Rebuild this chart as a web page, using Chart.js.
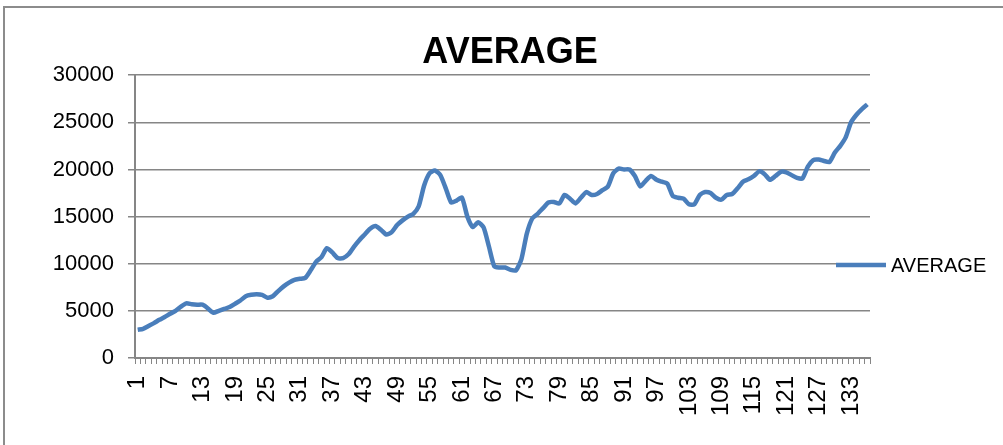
<!DOCTYPE html>
<html>
<head>
<meta charset="utf-8">
<script src="https://cdn.jsdelivr.net/npm/chart.js@4"></script>
<style>
  body { margin: 0; background: #fff; }
  canvas { display: block; }
</style>
</head>
<body>
<canvas id="chart" width="1003" height="445"></canvas>
<script>
// Values (136 periods)
const averages = [
  3000, 3100, 3400, 3700, 4050, 4350, 4700, 5000, 5450, 5800,
  5700, 5650, 5650, 5250, 4800, 5000, 5200, 5400, 5750, 6100,
  6550, 6700, 6750, 6700, 6400, 6550, 7100, 7600, 8000, 8300,
  8400, 8500, 9300, 10200, 10700, 11650, 11200, 10600, 10600, 11000,
  11800, 12500, 13100, 13700, 14000, 13600, 13100, 13350, 14100, 14600,
  15000, 15300, 16100, 18300, 19600, 19900, 19400, 18000, 16500, 16700,
  17000, 15000, 13900, 14400, 13850, 11800, 9700, 9600, 9600, 9350,
  9300, 10500, 13200, 14800, 15300, 15900, 16500, 16550, 16400, 17300,
  16900, 16400, 17000, 17600, 17300, 17400, 17800, 18200, 19600, 20100,
  20000, 20000, 19300, 18200, 18800, 19300, 18900, 18700, 18500, 17200,
  17000, 16900, 16300, 16300, 17300, 17600, 17500, 17000, 16800, 17300,
  17400, 18000, 18700, 18950, 19300, 19800, 19500, 18900, 19300, 19750,
  19700, 19400, 19100, 19050, 20300, 21000, 21050, 20900, 20800, 21800,
  22500, 23400, 25000, 25800, 26400, 26900
];
const periods = averages.map((v, i) => String(i + 1));
const seriesName = 'AVERAGE';
const labelEvery = 6;

const axisGray = '#868686';
const lineBlue = '#4a7ebb';

// Outer chart frame (only top and left edges are visible in the crop)
const framePlugin = {
  id: 'frame',
  beforeDraw(chart) {
    const { ctx } = chart;
    ctx.save();
    ctx.strokeStyle = '#8c8c8c';
    ctx.lineWidth = 2;
    ctx.beginPath();
    ctx.moveTo(4, chart.height);
    ctx.lineTo(4, 7);
    ctx.lineTo(chart.width, 7);
    ctx.stroke();
    ctx.restore();
  }
};

// Excel-style legend that sits over the right edge of the plot
const sideLegend = {
  id: 'sideLegend',
  afterDraw(chart) {
    const { ctx } = chart;
    const ds = chart.data.datasets[0];
    const x = chart.chartArea.right - 34;
    const y = 265;
    ctx.save();
    ctx.strokeStyle = ds.borderColor;
    ctx.lineWidth = ds.borderWidth;
    ctx.beginPath();
    ctx.moveTo(x, y);
    ctx.lineTo(x + 50, y);
    ctx.stroke();
    ctx.fillStyle = '#000';
    ctx.font = '20px "Liberation Sans"';
    ctx.textBaseline = 'middle';
    ctx.fillText(ds.label, x + 55, y + 1);
    ctx.restore();
  }
};

new Chart(document.getElementById('chart'), {
  type: 'line',
  data: {
    labels: periods,
    datasets: [{
      label: seriesName,
      data: averages,
      borderColor: lineBlue,
      backgroundColor: lineBlue,
      borderWidth: 4.5,
      pointRadius: 0,
      tension: 0.2,
      fill: false
    }]
  },
  options: {
    responsive: false,
    animation: false,
    layout: { padding: { left: 17, top: 0, right: 0, bottom: 0 } },
    plugins: {
      legend: { display: false },
      tooltip: { enabled: false },
      title: {
        display: true,
        text: seriesName,
        color: '#000',
        font: { family: 'Liberation Sans', size: 36, weight: 'bold', lineHeight: 1.2 },
        padding: { top: 31, bottom: 1 }
      }
    },
    scales: {
      x: {
        offset: true,
        grid: {
          display: true,
          drawOnChartArea: false,
          drawTicks: true,
          tickLength: 6,
          offset: true,
          color: axisGray,
          lineWidth: 1
        },
        border: { display: true, color: axisGray, width: 2 },
        ticks: {
          autoSkip: false,
          maxRotation: 90,
          minRotation: 90,
          padding: 12,
          color: '#000',
          font: { family: 'Liberation Sans', size: 24 },
          callback: function(value, index) {
            return index % labelEvery === 0 ? this.getLabelForValue(value) : '';
          }
        },
        afterFit: (scale) => { scale.height = 87; }
      },
      y: {
        min: 0,
        max: 30000,
        ticks: {
          stepSize: 5000,
          padding: 14,
          color: '#000',
          font: { family: 'Liberation Sans', size: 22 },
          callback: (value) => String(value)
        },
        grid: { color: axisGray, lineWidth: 1.5, tickLength: 7 },
        border: { display: true, color: axisGray, width: 2 },
        afterFit: (scale) => { scale.width = 118; }
      },
      pad: {
        type: 'linear',
        position: 'right',
        display: true,
        grid: { display: false },
        border: { display: false },
        ticks: { display: false },
        afterFit: (scale) => { scale.width = 133; }
      }
    }
  },
  plugins: [framePlugin, sideLegend]
});
</script>
</body>
</html>
